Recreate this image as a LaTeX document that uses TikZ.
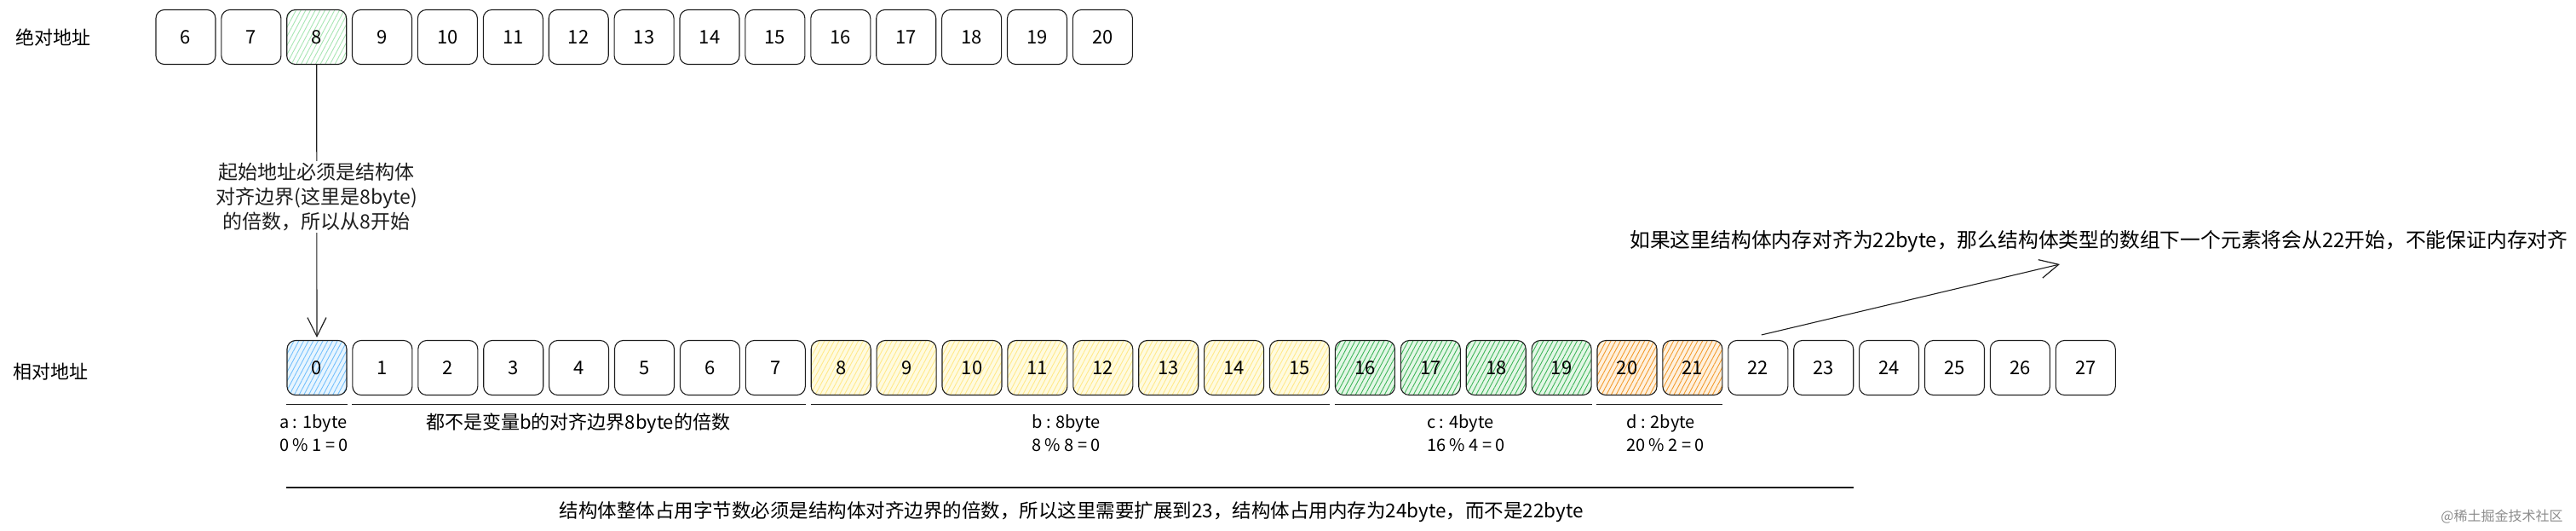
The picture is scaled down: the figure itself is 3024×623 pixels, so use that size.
\documentclass[tikz,border=0pt]{standalone}
\usepackage{fontspec}
\setmainfont{Noto Sans CJK SC}
\usepackage{tikz}
\usetikzlibrary{arrows.meta,positioning,patterns.meta}
\definecolor{inkgrey}{HTML}{1E1E1E}
\definecolor{bluehatch}{HTML}{74C0FC}
\definecolor{bluebg}{HTML}{E7F5FF}
\definecolor{yellowhatch}{HTML}{FFE98A}
\definecolor{yellowbg}{HTML}{FFFBE0}
\definecolor{greenhatch}{HTML}{3FB55A}
\definecolor{greenbg}{HTML}{E3F7E6}
\definecolor{mintehatch}{HTML}{A8E6B4}
\definecolor{orangehatch}{HTML}{F29B2E}
\definecolor{orangebg}{HTML}{FFF1DE}

\begin{document}
\begin{tikzpicture}[x=1pt, y=-1pt,
    cell/.style={rectangle, draw=inkgrey, line width=1.1pt, rounded corners=10pt,
        minimum width=70pt, minimum height=64pt, inner sep=0pt,
        font=\fontsize{22}{26}\selectfont},
    hatch/.style 2 args={preaction={fill=#1},
        pattern={Lines[angle=62, distance=5pt, line width=0.9pt]}, pattern color=#2},
    note/.style={font=\fontsize{23}{29}\selectfont, inner sep=2pt},
    calc/.style={font=\fontsize{20}{27}\selectfont, align=left,
        anchor=north west, inner sep=0pt},
    uline/.style={line width=1.1pt, inkgrey},
    arr/.style={-{Straight Barb[length=22pt, width=22pt, line width=1.2pt]},
        line width=1.1pt, inkgrey}
]
    \useasboundingbox (0,0) rectangle (3024,623);

    % Absolute addresses
    \node[note, font=\fontsize{22}{29}\selectfont] (absname) at (62,44) {绝对地址};
    \node[cell] (t6) at (218,43.5) {6};
    \node[cell, right=5.8pt of t6] (t7) {7};
    \node[cell, hatch={white}{mintehatch}, right=5.8pt of t7] (t8) {8};
    \foreach \i [remember=\i as \prev (initially 8)] in {9,...,20}
        \node[cell, right=5.8pt of t\prev] (t\i) {\i};

    % Relative addresses
    \node[note, font=\fontsize{22}{29}\selectfont] (relname) at (60,436) {相对地址};
    \node[cell, hatch={bluebg}{bluehatch}] (r0) at (372,431.5) {0};
    \foreach \i [remember=\i as \prev (initially 0)] in {1,...,7}
        \node[cell, right=5.8pt of r\prev] (r\i) {\i};
    \foreach \i [remember=\i as \prev (initially 7)] in {8,...,15}
        \node[cell, hatch={yellowbg}{yellowhatch}, right=5.8pt of r\prev] (r\i) {\i};
    \foreach \i [remember=\i as \prev (initially 15)] in {16,...,19}
        \node[cell, hatch={greenbg}{greenhatch}, right=5.8pt of r\prev] (r\i) {\i};
    \foreach \i [remember=\i as \prev (initially 19)] in {20,21}
        \node[cell, hatch={orangebg}{orangehatch}, right=5.8pt of r\prev] (r\i) {\i};
    \foreach \i [remember=\i as \prev (initially 21)] in {22,...,27}
        \node[cell, right=5.8pt of r\prev] (r\i) {\i};

    % Start address
    \draw[arr, shorten >=3pt] (t8.south) -- (r0.north)
        node[note, fill=white, align=center, pos=0.48] (startnote)
        {起始地址必须是结构体\\对齐边界(这里是8byte)\\的倍数，所以从8开始};

    % Member groups
    \draw[uline] ([yshift=-10pt]r0.south west) -- ([yshift=-10pt]r0.south east);
    \draw[uline] ([yshift=-10pt]r1.south west) -- ([yshift=-10pt]r7.south east);
    \draw[uline] ([yshift=-10pt]r8.south west) -- ([yshift=-10pt]r15.south east);
    \draw[uline] ([yshift=-10pt]r16.south west) -- ([yshift=-10pt]r19.south east);
    \draw[uline] ([yshift=-10pt]r20.south west) -- ([yshift=-10pt]r21.south east);

    \node[calc] (la) at (328,486) {a : 1byte\\0 \% 1 = 0};
    \node[note, font=\fontsize{22}{29}\selectfont, anchor=west] (gapnote) at (498,497)
        {都不是变量b的对齐边界8byte的倍数};
    \node[calc] (lb) at (1211,486) {b : 8byte\\8 \% 8 = 0};
    \node[calc] (lc) at (1675,486) {c : 4byte\\16 \% 4 = 0};
    \node[calc] (ld) at (1909,486) {d : 2byte\\20 \% 2 = 0};

    % Whole size
    \draw[uline, line width=1.4pt] ([yshift=-108pt]r0.south west) -- ([yshift=-108pt]r23.south east);
    \node[note, font=\fontsize{22.5}{29}\selectfont] (sumnote) at (1258,601)
        {结构体整体占用字节数必须是结构体对齐边界的倍数，所以这里需要扩展到23，结构体占用内存为24byte，而不是22byte};

    % Next element
    \node[note, font=\fontsize{23.8}{29}\selectfont, anchor=west] (farnote) at (1911,283)
        {如果这里结构体内存对齐为22byte，那么结构体类型的数组下一个元素将会从22开始，不能保证内存对齐};
    \coordinate (tip) at (2418,310);
    \draw[arr] ([xshift=4pt, yshift=6pt]r22.north) -- (tip);

    \node[font=\fontsize{16}{18}\selectfont, text=black!45, anchor=east] (wm) at (3012,606) {@稀土掘金技术社区};
\end{tikzpicture}
\end{document}
